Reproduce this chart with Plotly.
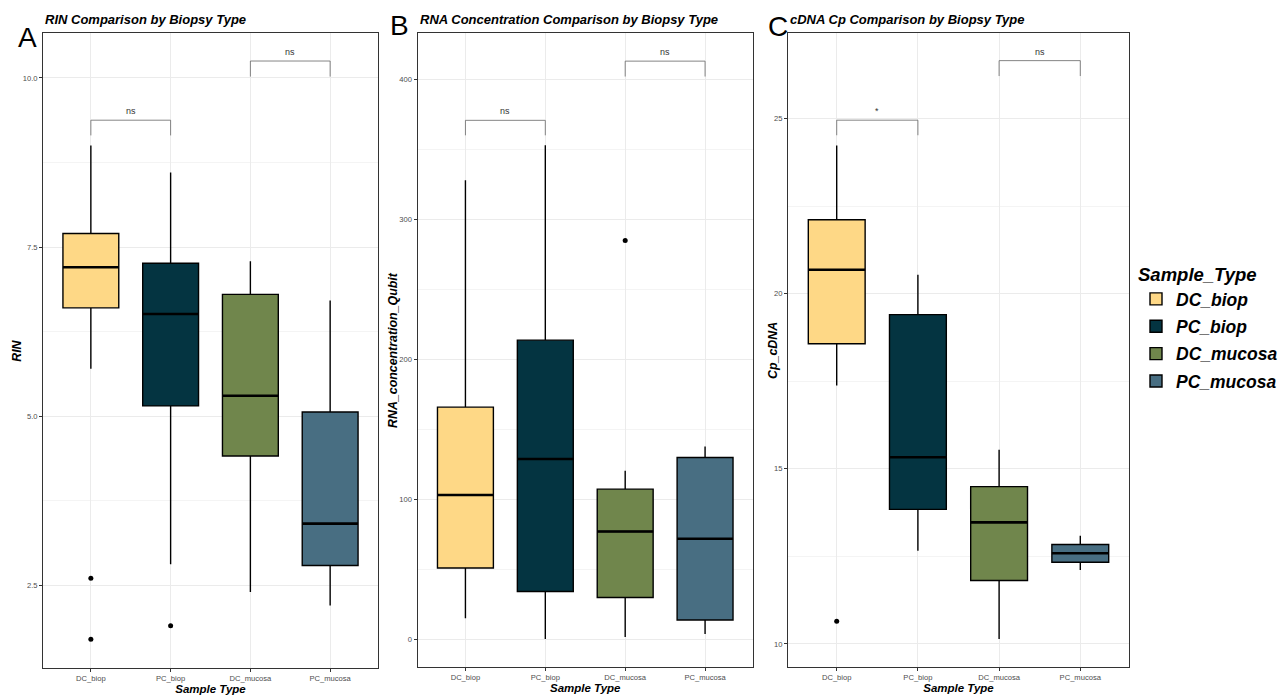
import plotly.graph_objects as go

# ---- categories and colours -------------------------------------------------
categories = ["DC_biop", "PC_biop", "DC_mucosa", "PC_mucosa"]
fill_colors = ["#FED886", "#043441", "#70864C", "#486E82"]

# ---- RIN summary statistics ---------------------------------------------------
rin_lower = [5.70, 2.81, 2.40, 2.20]
rin_q1 = [6.60, 5.15, 4.41, 2.79]
rin_median = [7.20, 6.51, 5.30, 3.41]
rin_q3 = [7.70, 7.26, 6.80, 5.06]
rin_upper = [9.00, 8.60, 7.29, 6.71]
rin_out_cat = ["DC_biop", "DC_biop", "PC_biop"]
rin_out_val = [2.60, 1.70, 1.90]

# ---- RNA concentration (Qubit) summary statistics -----------------------------
rna_lower = [14.8, 0.0, 1.4, 3.6]
rna_q1 = [50.7, 33.9, 29.7, 13.6]
rna_median = [102.9, 128.6, 76.8, 71.7]
rna_q3 = [165.7, 213.6, 107.1, 129.7]
rna_upper = [327.9, 352.9, 120.2, 137.6]
rna_out_cat = ["DC_mucosa"]
rna_out_val = [284.8]

# ---- cDNA Cp summary statistics -----------------------------------------------
cp_lower = [17.38, 12.66, 10.14, 12.11]
cp_q1 = [18.57, 13.84, 11.81, 12.33]
cp_median = [20.68, 15.33, 13.47, 12.59]
cp_q3 = [22.11, 19.40, 14.49, 12.84]
cp_upper = [24.23, 20.54, 15.54, 13.09]
cp_out_cat = ["DC_biop"]
cp_out_val = [10.65]

# ---- pairwise comparison brackets: (group1, group2, bracket y, tip y, label) --
rin_tests = [("DC_biop", "PC_biop", 9.375, 9.15, "ns"),
             ("DC_mucosa", "PC_mucosa", 10.25, 10.02, "ns")]
rna_tests = [("DC_biop", "PC_biop", 370.7, 360.0, "ns"),
             ("DC_mucosa", "PC_mucosa", 413.0, 402.0, "ns")]
cp_tests = [("DC_biop", "PC_biop", 24.95, 24.52, "*"),
            ("DC_mucosa", "PC_mucosa", 26.65, 26.21, "ns")]

panels = [
    dict(title="RIN Comparison by Biopsy Type", ylab="RIN", letter="A",
         lower=rin_lower, q1=rin_q1, med=rin_median, q3=rin_q3, upper=rin_upper,
         out_cat=rin_out_cat, out_val=rin_out_val, tests=rin_tests,
         yrange=[1.27, 10.66], dtick=2.5, tickformat=".1f"),
    dict(title="RNA Concentration Comparison by Biopsy Type",
         ylab="RNA_concentration_Qubit", letter="B",
         lower=rna_lower, q1=rna_q1, med=rna_median, q3=rna_q3, upper=rna_upper,
         out_cat=rna_out_cat, out_val=rna_out_val, tests=rna_tests,
         yrange=[-19.8, 432.9], dtick=100, tickformat="d"),
    dict(title="cDNA Cp Comparison by Biopsy Type", ylab="Cp_cDNA", letter="C",
         lower=cp_lower, q1=cp_q1, med=cp_median, q3=cp_q3, upper=cp_upper,
         out_cat=cp_out_cat, out_val=cp_out_val, tests=cp_tests,
         yrange=[9.35, 27.43], dtick=5, tickformat="d"),
]

W, H = 1288, 695
FONT = "Liberation Sans, Arial, Helvetica, sans-serif"
BOX_W = 0.7

# pixel layout of the three panels (left, right, top, bottom)
px_boxes = [(43, 378, 33.3, 668.3), (417.5, 753, 33.3, 666.7), (788, 1129, 33.3, 666.7)]
letter_pos = [(27.5, 36), (400, 23), (778, 24)]
ylab_x = [17, 393, 773]

fig = go.Figure()
annotations = []
shapes = []

for i, p in enumerate(panels):
    ax = "" if i == 0 else str(i + 1)
    xref, yref = "x" + ax, "y" + ax
    for j, cat in enumerate(categories):
        fig.add_trace(go.Box(
            x=[cat], q1=[p["q1"][j]], median=[p["med"][j]], q3=[p["q3"][j]],
            lowerfence=[p["lower"][j]], upperfence=[p["upper"][j]],
            name=cat, legendgroup=cat, showlegend=(i == 0),
            fillcolor=fill_colors[j], line=dict(color="#000000", width=1.4),
            whiskerwidth=0, width=BOX_W, boxpoints=False,
            xaxis=xref, yaxis=yref, hoverinfo="skip"))
        # heavier median stroke
        shapes.append(dict(
            type="line", xref=xref, yref=yref,
            x0=j - BOX_W / 2, x1=j + BOX_W / 2,
            y0=p["med"][j], y1=p["med"][j],
            line=dict(color="#000000", width=2.6), layer="above"))
    # outlying observations
    fig.add_trace(go.Scatter(
        x=p["out_cat"], y=p["out_val"], mode="markers",
        marker=dict(color="#000000", size=5), showlegend=False,
        xaxis=xref, yaxis=yref, hoverinfo="skip"))
    # significance brackets
    for g1, g2, ytop, ytip, lab in p["tests"]:
        fig.add_trace(go.Scatter(
            x=[g1, g1, g2, g2], y=[ytip, ytop, ytop, ytip], mode="lines",
            line=dict(color="#666666", width=0.8), showlegend=False,
            xaxis=xref, yaxis=yref, hoverinfo="skip"))
        xm = (categories.index(g1) + categories.index(g2)) / 2
        annotations.append(dict(
            x=xm, y=ytop, xref=xref, yref=yref, text=lab, showarrow=False,
            yanchor="bottom", yshift=2,
            font=dict(family=FONT, size=9, color="#333333")))

    l, r, t, b = px_boxes[i]
    axis_common = dict(showline=True, linecolor="#333333", linewidth=1,
                       mirror=True, ticks="outside", ticklen=3, tickwidth=1,
                       tickcolor="#333333", zeroline=False,
                       showgrid=True, gridcolor="#EBEBEB", gridwidth=1)
    fig.layout["xaxis" + ax] = dict(
        axis_common, domain=[l / W, r / W], anchor=yref,
        type="category", categoryorder="array", categoryarray=categories,
        range=[-0.6, 3.6],
        tickfont=dict(family=FONT, size=7.6, color="#4D4D4D"),
        title=dict(text="Sample Type", standoff=1,
                   font=dict(family=FONT, size=11.5, color="#000000",
                             weight="bold", style="italic")))
    fig.layout["yaxis" + ax] = dict(
        axis_common, domain=[1 - b / H, 1 - t / H], anchor=xref,
        range=p["yrange"], dtick=p["dtick"], tick0=0, tickformat=p["tickformat"],
        tickfont=dict(family=FONT, size=7.6, color="#4D4D4D"),
        minor=dict(dtick=p["dtick"] / 2, tick0=0, showgrid=True,
                   gridcolor="#F4F4F4", gridwidth=0.6, ticks=""))
    # y-axis title
    annotations.append(dict(
        x=ylab_x[i] / W, y=1 - ((t + b) / 2) / H, xref="paper", yref="paper",
        text=p["ylab"], textangle=-90, showarrow=False,
        xanchor="center", yanchor="middle",
        font=dict(family=FONT, size=12.4, color="#000000",
                  weight="bold", style="italic")))
    # panel title
    annotations.append(dict(
        x=l / W, y=1 - 19 / H, xref="paper", yref="paper", text=p["title"],
        showarrow=False, xanchor="left", yanchor="middle",
        font=dict(family=FONT, size=13, color="#000000",
                  weight="bold", style="italic")))
    # panel tag
    lx, ly = letter_pos[i]
    annotations.append(dict(
        x=lx / W, y=1 - (ly + 2) / H, xref="paper", yref="paper",
        text=p["letter"], showarrow=False, xanchor="center", yanchor="middle",
        font=dict(family=FONT, size=28, color="#000000")))

fig.update_layout(
    width=W, height=H, margin=dict(l=0, r=0, t=0, b=0),
    paper_bgcolor="#FFFFFF", plot_bgcolor="#FFFFFF",
    boxmode="overlay", annotations=annotations, shapes=shapes,
    legend=dict(x=1136 / W, y=1 - 257 / H, xanchor="left", yanchor="top",
                traceorder="grouped", tracegroupgap=1.6,
                title=dict(text="Sample_Type",
                           font=dict(family=FONT, size=18.5, color="#000000",
                                     weight="bold", style="italic")),
                font=dict(family=FONT, size=17.5, color="#000000",
                          weight="bold", style="italic"),
                bgcolor="rgba(0,0,0,0)"),
)

fig.write_html("out.html")
